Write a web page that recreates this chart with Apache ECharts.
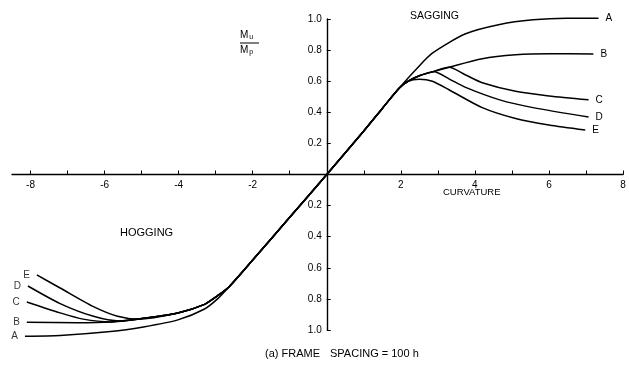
<!DOCTYPE html>
<html>
<head>
<meta charset="utf-8">
<script src="https://cdn.jsdelivr.net/npm/echarts@6/dist/echarts.min.js"></script>
<style>
html,body{margin:0;padding:0;background:#fff;}
#chart{width:629px;height:379px;}
</style>
</head>
<body>
<div id="chart"></div>
<script>
// ---- data (curvature, Mu/Mp) ----
var curveNames = ['A', 'B', 'C', 'D', 'E'];
var xTickValues = [-8, -7, -6, -5, -4, -3, -2, -1, 1, 2, 3, 4, 5, 6, 7, 8];
var xLabelValues = [-8, -6, -4, -2, 2, 4, 6, 8];
var yLabelValues = [-1, -0.8, -0.6, -0.4, -0.2, 0.2, 0.4, 0.6, 0.8, 1];

var commonPart = [[-2.65, -0.725], [-2, -0.55], [-1, -0.275], [0, 0], [1, 0.28], [1.5, 0.425], [1.96, 0.556]];

var hogA = [[-8.15, -1.04], [-7.2, -1.035], [-5.84, -1.01], [-4.95, -0.98], [-4.02, -0.935], [-3.3, -0.865], [-2.95, -0.8]];
var hogB = [[-8.1, -0.95], [-6.74, -0.953], [-5.84, -0.948], [-4.95, -0.925], [-4.02, -0.89], [-3.3, -0.835], [-2.95, -0.78]];
var hogC = [[-8.1, -0.82], [-7.2, -0.89], [-6.58, -0.93], [-5.84, -0.948], [-4.95, -0.925], [-4.02, -0.89], [-3.3, -0.835], [-2.95, -0.78]];
var hogD = [[-8.07, -0.717], [-7.2, -0.83], [-6.3, -0.912], [-5.6, -0.942], [-4.95, -0.925], [-4.02, -0.89], [-3.3, -0.835], [-2.95, -0.78]];
var hogE = [[-7.83, -0.646], [-7.2, -0.73], [-6.3, -0.85], [-5.65, -0.912], [-5.1, -0.93], [-4.02, -0.89], [-3.3, -0.835], [-2.95, -0.78]];

var sagA = [[2.39, 0.67], [2.85, 0.78], [3.75, 0.905], [4.67, 0.965], [5.57, 0.995], [6.47, 1.005], [7.34, 1.005]];
var sagB = [[2.2, 0.6], [2.5, 0.635], [2.85, 0.66], [3.3, 0.69], [4.2, 0.745], [5.1, 0.77], [6.0, 0.777], [7.2, 0.775]];
var sagC = [[2.2, 0.6], [2.5, 0.635], [2.85, 0.66], [3.3, 0.69], [3.75, 0.64], [4.2, 0.59], [5.1, 0.535], [6.0, 0.505], [7.07, 0.48]];
var sagD = [[2.2, 0.6], [2.5, 0.635], [2.9, 0.66], [3.3, 0.615], [3.75, 0.56], [4.67, 0.48], [5.57, 0.43], [7.07, 0.37]];
var sagE = [[2.2, 0.6], [2.5, 0.612], [2.85, 0.6], [3.3, 0.545], [4.2, 0.43], [5.1, 0.36], [6.0, 0.318], [6.98, 0.286]];

var hogging = {A: hogA, B: hogB, C: hogC, D: hogD, E: hogE};
var sagging = {A: sagA, B: sagB, C: sagC, D: sagD, E: sagE};

var FONT = '"Liberation Sans", Arial, Helvetica, sans-serif';

var X_MIN = -8.5, X_MAX = 8, Y_MIN = -1, Y_MAX = 1;
var GRID = {left: 12, right: 6, top: 19, bottom: 49};
var W = 629, H = 379;
var gridW = W - GRID.left - GRID.right;
var gridH = H - GRID.top - GRID.bottom;

var chart = echarts.init(document.getElementById('chart'), null, {renderer: 'canvas'});

var series = curveNames.map(function (name) {
  var pts = hogging[name].concat(commonPart, sagging[name]);
  return {
    name: name,
    type: 'line',
    data: pts,
    smooth: 0.25,
    clip: false,
    showSymbol: false,
    symbol: 'none',
    silent: true,
    animation: false,
    lineStyle: {color: '#000', width: 1.5},
    endLabel: {show: true, formatter: name, color: '#000', fontSize: 10, fontFamily: FONT, distance: 7}
  };
});

// left-end curve labels
series.push({
  type: 'scatter',
  symbolSize: 0,
  clip: false,
  silent: true,
  animation: false,
  data: curveNames.map(function (name) { return {value: hogging[name][0], name: name}; }),
  label: {show: true, position: 'left', distance: 7, formatter: '{b}', color: '#000', fontSize: 10, fontFamily: FONT}
});

var option = {
  backgroundColor: '#fff',
  animation: false,
  grid: {left: GRID.left, right: GRID.right, top: GRID.top, bottom: GRID.bottom, containLabel: false, outerBoundsMode: 'none'},
  xAxis: {
    type: 'value', min: X_MIN, max: X_MAX, position: 'bottom',
    offset: -gridH * (0 - Y_MIN) / (Y_MAX - Y_MIN),
    splitLine: {show: false},
    axisLine: {onZero: false, lineStyle: {color: '#000', width: 1.4}},
    axisTick: {show: true, inside: true, length: 4, customValues: xTickValues, lineStyle: {color: '#000', width: 1}},
    axisLabel: {customValues: xLabelValues, color: '#000', fontSize: 10, fontFamily: FONT, margin: 6,
      formatter: function (v) { return String(v); }}
  },
  yAxis: {
    type: 'value', min: Y_MIN, max: Y_MAX, position: 'left',
    offset: -gridW * (0 - X_MIN) / (X_MAX - X_MIN),
    splitLine: {show: false},
    axisLine: {onZero: false, lineStyle: {color: '#000', width: 1.4}},
    axisTick: {show: true, inside: true, length: 4, customValues: yLabelValues, lineStyle: {color: '#000', width: 1}},
    axisLabel: {customValues: yLabelValues, color: '#000', fontSize: 10, fontFamily: FONT, margin: 5,
      formatter: function (v) { return Math.abs(v).toFixed(1); }}
  },
  graphic: [
    {type: 'text', left: 410, top: 11, style: {text: 'SAGGING', fill: '#000', font: '10.5px ' + FONT}},
    {type: 'text', left: 120, top: 227, style: {text: 'HOGGING', fill: '#000', font: '11px ' + FONT}},
    {type: 'text', left: 443, top: 187, style: {text: 'CURVATURE', fill: '#000', font: '9.5px ' + FONT}},
    {type: 'text', left: 265, top: 348, style: {text: '(a) FRAME', fill: '#000', font: '11px ' + FONT}},
    {type: 'text', left: 330, top: 348, style: {text: 'SPACING = 100 h', fill: '#000', font: '11px ' + FONT}},
    {type: 'text', left: 240, top: 30, style: {text: '{m|M}{s|u}', fill: '#000',
      rich: {m: {fontSize: 10, fontFamily: FONT, fill: '#000'}, s: {fontSize: 7, fontFamily: FONT, fill: '#000', verticalAlign: 'bottom', padding: [4, 0, 0, 1]}}}},
    {type: 'line', shape: {x1: 240, y1: 43, x2: 259, y2: 43}, style: {stroke: '#000', lineWidth: 1}},
    {type: 'text', left: 240, top: 45, style: {text: '{m|M}{s|p}', fill: '#000',
      rich: {m: {fontSize: 10, fontFamily: FONT, fill: '#000'}, s: {fontSize: 7, fontFamily: FONT, fill: '#000', verticalAlign: 'bottom', padding: [4, 0, 0, 1]}}}}
  ],
  series: series
};
chart.setOption(option);
</script>
</body>
</html>
